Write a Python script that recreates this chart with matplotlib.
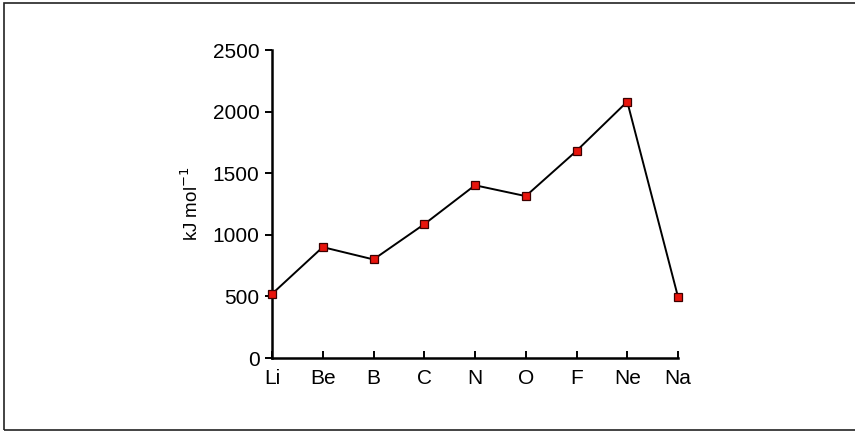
import matplotlib
matplotlib.use("Agg")
import matplotlib.pyplot as plt
from matplotlib.patches import Rectangle

# ionisation energies, first row + Na
elements = ["Li", "Be", "B", "C", "N", "O", "F", "Ne", "Na"]
energy = [520, 900, 800, 1086, 1402, 1314, 1681, 2081, 496]
yticks = [0, 500, 1000, 1500, 2000, 2500]

plt.rcParams['font.family'] = ['Liberation Sans', 'DejaVu Sans']

fig = plt.figure(figsize=(8.55, 4.32), dpi=100)
ax = fig.add_axes([272 / 855, 1 - 358 / 432, (678 - 272) / 855, (358 - 50) / 432])

x = list(range(len(elements)))
ax.plot(x, energy, color="black", lw=1.4, marker="s", ms=5.5,
        mfc="#e8140c", mec="#3a0000", mew=0.9, clip_on=False, zorder=3)

ax.set_xlim(0, len(elements) - 1)
ax.set_ylim(0, 2500)
ax.set_xticks(x)
ax.set_xticklabels(elements, fontsize=15)
ax.set_yticks(yticks)
ax.set_yticklabels([str(v) for v in yticks], fontsize=15)
ax.tick_params(axis="x", direction="in", length=5, width=1.4, pad=8)
ax.tick_params(axis="y", direction="out", length=5, width=1.4, pad=4)
ax.set_ylabel("kJ mol$^{-1}$", fontsize=13.5, labelpad=8)

for s in ["top", "right"]:
    ax.spines[s].set_visible(False)
for s in ["left", "bottom"]:
    ax.spines[s].set_linewidth(1.8)

# scanned page frame
fig.patches.append(Rectangle((4 / 855, 2 / 432), 1.1, 1 - 5 / 432,
                             transform=fig.transFigure, fill=False,
                             ec="#222222", lw=1.2))

fig.savefig("out.png", dpi=100)
